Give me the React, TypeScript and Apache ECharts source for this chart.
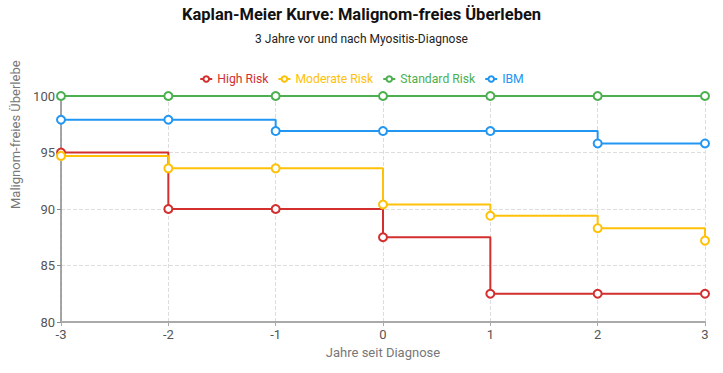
import React, { useEffect, useRef } from "react";
import * as echarts from "echarts";

const years = [-3, -2, -1, 0, 1, 2, 3];
const highRisk = [95, 90, 90, 87.5, 82.5, 82.5, 82.5];
const moderateRisk = [94.7, 93.6, 93.6, 90.4, 89.4, 88.3, 87.2];
const standardRisk = [100, 100, 100, 100, 100, 100, 100];
const ibm = [97.9, 97.9, 96.9, 96.9, 96.9, 95.8, 95.8];

const seriesDefs = [
  { name: "High Risk", data: highRisk, color: "#d32f2f" },
  { name: "Moderate Risk", data: moderateRisk, color: "#ffc107" },
  { name: "Standard Risk", data: standardRisk, color: "#4caf50" },
  { name: "IBM", data: ibm, color: "#2196f3" },
];

const FONT = "Roboto, 'Noto Sans', sans-serif";

export default function App() {
  const ref = useRef<HTMLDivElement>(null);
  useEffect(() => {
    if (!ref.current) return;
    const chart = echarts.init(ref.current, null, { renderer: "svg" });
    chart.setOption({
      animation: false,
      textStyle: { fontFamily: FONT },
      title: {
        text: "Kaplan-Meier Kurve: Malignom-freies Überleben",
        subtext: "3 Jahre vor und nach Myositis-Diagnose",
        left: "center",
        top: 1,
        itemGap: 10,
        textStyle: { fontSize: 16.5, fontWeight: "bold", color: "#111", fontFamily: FONT },
        subtextStyle: { fontSize: 12, color: "#222", fontFamily: FONT },
      },
      legend: {
        top: 68,
        left: "center",
        itemWidth: 12,
        itemHeight: 7,
        itemGap: 9,
        textStyle: { fontSize: 12.2, fontFamily: FONT },
        data: seriesDefs.map((s) => ({ name: s.name, textStyle: { color: s.color } })),
      },
      grid: { left: 61, right: 18, top: 96, bottom: 51, outerBoundsMode: "none" },
      xAxis: {
        type: "value",
        min: -3,
        max: 3,
        interval: 1,
        name: "Jahre seit Diagnose",
        nameLocation: "middle",
        nameGap: 24,
        nameTextStyle: { fontSize: 13, color: "#777" },
        axisLine: { lineStyle: { color: "#aaa", width: 2 } },
        axisTick: { show: true, length: 4, lineStyle: { color: "#aaa" } },
        axisLabel: { fontSize: 13, color: "#555", margin: 6 },
        splitLine: { show: true, lineStyle: { type: "dashed", color: "#ddd" } },
      },
      yAxis: {
        type: "value",
        min: 80,
        max: 100,
        interval: 5,
        name: "Malignom-freies Überleben",
        nameLocation: "middle",
        nameGap: 37,
        nameTruncate: { maxWidth: 150, ellipsis: "" },
        nameTextStyle: {
          fontSize: 13,
          color: "#777",
          align: "left",
        },
        axisLine: { show: true, onZero: false, lineStyle: { color: "#888", width: 1.5 } },
        axisTick: { show: true, length: 4, lineStyle: { color: "#888" } },
        axisLabel: { fontSize: 13, color: "#555", margin: 6 },
        splitLine: { show: true, lineStyle: { type: "dashed", color: "#ddd" } },
      },
      series: seriesDefs.map((s) => ({
        name: s.name,
        type: "line",
        step: "end",
        data: years.map((y, i) => [y, s.data[i]]),
        color: s.color,
        symbol: "emptyCircle",
        symbolSize: 8,
        lineStyle: { width: 2, color: s.color },
        itemStyle: { color: s.color, borderWidth: 2 },
      })),
    });
    return () => chart.dispose();
  }, []);
  return (
    <div
      ref={ref}
      style={{ position: "absolute", left: 0, top: 0, width: 723, height: 373 }}
    />
  );
}
